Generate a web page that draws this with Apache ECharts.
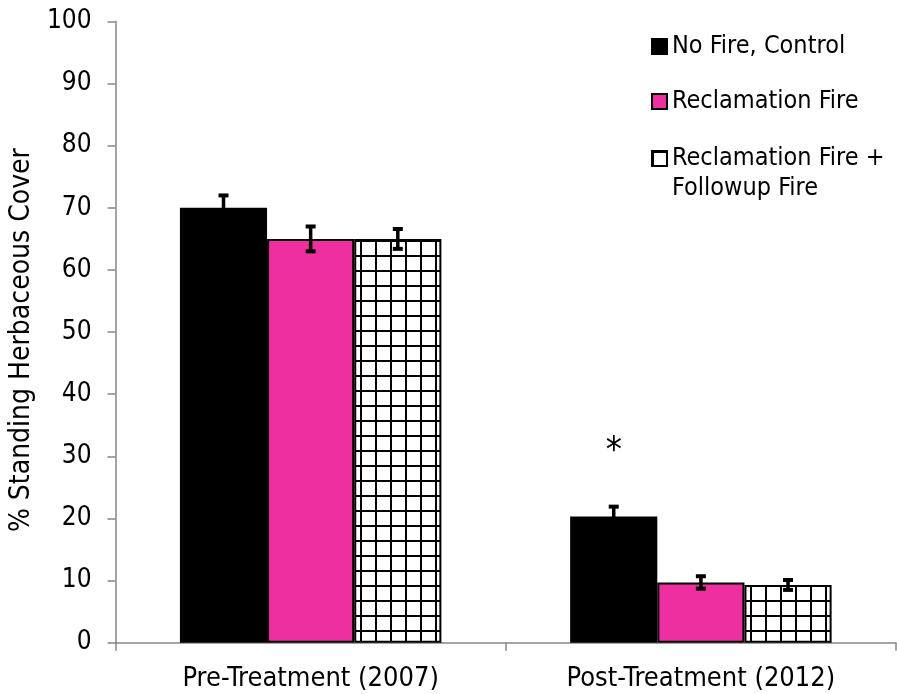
<!DOCTYPE html>
<html>
<head>
<meta charset="utf-8">
<script src="https://cdn.jsdelivr.net/npm/echarts@6/dist/echarts.min.js"></script>
<style>
html,body{margin:0;padding:0;background:#fff;}
#chart{width:897px;height:694px;}
</style>
</head>
<body>
<div id="chart"></div>
<script>
const categories = ['Pre-Treatment (2007)', 'Post-Treatment (2012)'];
const seriesNames = ['No Fire, Control', 'Reclamation Fire', 'Reclamation Fire + Followup Fire'];
const noFireValues = [70, 20.3];
const reclamationValues = [65, 9.7];
const followupValues = [65, 9.3];
const noFireErrors = [2.0, 1.6];
const reclamationErrors = [2.0, 1.0];
const followupErrors = [1.6, 0.8];
const noFireSignificance = ['', '*'];
const yAxisTitle = '% Standing Herbaceous Cover';
const yMin = 0, yMax = 100, yStep = 10;

const FONT = "'DejaVu Sans Condensed', 'DejaVu Sans', sans-serif";
const AXIS_COLOR = '#868686';
const PINK = '#EE2F9F';
const GAP = 0.33;

function makeHatch() {
  const c = document.createElement('canvas');
  c.width = 15; c.height = 15;
  const g = c.getContext('2d');
  g.fillStyle = '#fff';
  g.fillRect(0, 0, 15, 15);
  g.fillStyle = '#000';
  g.fillRect(0, 0, 2, 15);
  g.fillRect(0, 0, 15, 2);
  return c;
}
const hatch = { image: makeHatch(), repeat: 'repeat' };

const valueSets = [noFireValues, reclamationValues, followupValues];
const errorSets = [noFireErrors, reclamationErrors, followupErrors];
const fills = ['#000000', PINK, hatch];

const chart = echarts.init(document.getElementById('chart'), null, { renderer: 'canvas' });

const barSeries = valueSets.map((vals, i) => ({
  name: seriesNames[i],
  type: 'bar',
  data: vals,
  barGap: '0%',
  barCategoryGap: (GAP * 100) + '%',
  itemStyle: { color: fills[i], borderColor: '#000', borderWidth: 2 },
  emphasis: { disabled: true },
  z: 2
}));

const errSeries = valueSets.map((vals, i) => ({
  name: seriesNames[i] + ' error',
  type: 'custom',
  z: 5,
  silent: true,
  data: vals.map((v, k) => [k, v, errorSets[i][k]]),
  renderItem: function (params, api) {
    const cat = api.value(0);
    const val = api.value(1);
    const err = api.value(2);
    const band = api.size([1, 0])[0];
    const barW = band * (1 - GAP) / 3;
    const off = (i - 1) * barW;
    const pTop = api.coord([cat, val + err]);
    const pBot = api.coord([cat, val - err]);
    const x = pTop[0] + off;
    const capW = 10, capH = 4;
    const children = [
      { type: 'rect', shape: { x: x - 1.75, y: pTop[1], width: 3.5, height: pBot[1] - pTop[1] }, style: { fill: '#000' } },
      { type: 'rect', shape: { x: x - capW / 2, y: pTop[1] - capH / 2, width: capW, height: capH }, style: { fill: '#000' } },
      { type: 'rect', shape: { x: x - capW / 2, y: pBot[1] - capH / 2, width: capW, height: capH }, style: { fill: '#000' } }
    ];
    const sig = noFireSignificance[cat];
    if (i === 0 && sig) {
      children.push({ type: 'text', style: { text: sig, x: x, y: pTop[1] - 73, align: 'center', verticalAlign: 'top', fontSize: 36, fontFamily: FONT, fill: '#000' } });
    }
    return { type: 'group', children: children };
  }
}));

const option = {
  animation: false,
  backgroundColor: '#fff',
  textStyle: { fontFamily: FONT },
  grid: { left: 114, right: 1, top: 21.5, bottom: 51.3, containLabel: false },
  legend: [
    {
      data: [seriesNames[0], seriesNames[1]],
      orient: 'vertical', left: 646, top: 29,
      itemWidth: 15, itemHeight: 15, itemGap: 30,
      icon: 'rect',
      selectedMode: false,
      textStyle: { fontSize: 25, color: '#000', fontFamily: FONT }
    },
    {
      data: [seriesNames[2]],
      orient: 'vertical', left: 646, top: 141,
      itemWidth: 15, itemHeight: 15,
      icon: 'rect',
      selectedMode: false,
      formatter: () => 'Reclamation Fire +',
      textStyle: { fontSize: 25, color: '#000', fontFamily: FONT }
    }
  ],
  graphic: [
    { type: 'text', left: 672, top: 176, style: { text: 'Followup Fire', fontSize: 25, fontFamily: FONT, fill: '#000' } }
  ],
  xAxis: {
    type: 'category',
    data: categories,
    axisLine: { lineStyle: { color: AXIS_COLOR, width: 1.5 } },
    axisTick: { show: true, length: 8, lineStyle: { color: AXIS_COLOR, width: 1.5 } },
    axisLabel: { fontSize: 27, color: '#000', margin: 23, fontFamily: FONT },
    splitLine: { show: false }
  },
  yAxis: {
    type: 'value',
    min: yMin, max: yMax, interval: yStep,
    name: yAxisTitle,
    nameLocation: 'middle',
    nameRotate: 90,
    nameGap: 74,
    nameTextStyle: { fontSize: 28, color: '#000', fontFamily: FONT, padding: [0, 16, 0, 0] },
    axisLine: { show: true, lineStyle: { color: AXIS_COLOR, width: 1.5 } },
    axisTick: { show: true, length: 8, lineStyle: { color: AXIS_COLOR, width: 1.5 } },
    axisLabel: { fontSize: 26, color: '#000', margin: 24, fontFamily: FONT },
    splitLine: { show: false }
  },
  series: barSeries.concat(errSeries)
};
chart.setOption(option);
</script>
</body>
</html>
